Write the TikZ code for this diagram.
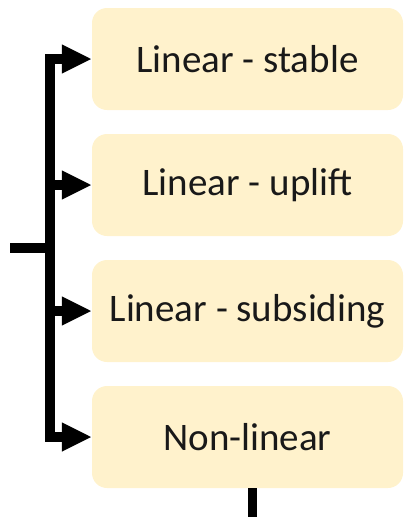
\documentclass[tikz,border=0pt]{standalone}
\usepackage{fontspec}
\setmainfont{Carlito}
\usetikzlibrary{arrows.meta}
\definecolor{boxfill}{HTML}{FFF2CC}
\tikzset{
  catbox/.style={draw=none, fill=boxfill, rounded corners=15pt,
    minimum width=311pt, minimum height=102pt, inner sep=0pt,
    font=\fontsize{39}{43}\selectfont, text=black!90},
  link/.style={line width=9.5pt, draw=black},
  tip/.style={-{Triangle[length=30pt,width=27pt]}}
}
\begin{document}
\begin{tikzpicture}[x=1pt,y=-1pt]
  \useasboundingbox (0,0) rectangle (409,517);
  % category boxes
  \node[catbox] (b1) at (247.5,59)  {Linear - stable};
  \node[catbox] (b2) at (247.5,185) {Linear - uplift};
  \node[catbox] (b3) at (247.5,311) {Linear - subsiding};
  \node[catbox] (b4) at (247.5,437) {Non-linear};
  % bracket spine and its stub
  \coordinate (top) at (50,59);
  \coordinate (bot) at (50,437);
  \coordinate (mid) at (50,248);
  \coordinate (stub) at (10,248);
  \coordinate (spine) at (45.25,0);
  \draw[link] ([yshift=-4.75pt]top) -- ([yshift=4.75pt]bot);
  \draw[link] (stub) -- ([xshift=4.75pt]mid);
  % arrows into each box
  \foreach \b in {b1,b2,b3,b4}
    \draw[link,tip] (spine |- \b.west) -- (\b.west);
  % outgoing line below the last box
  \coordinate (edge) at (0,517);
  \draw[link] ([xshift=5pt]b4.south) -- ([xshift=5pt]b4.south |- edge);
\end{tikzpicture}
\end{document}
